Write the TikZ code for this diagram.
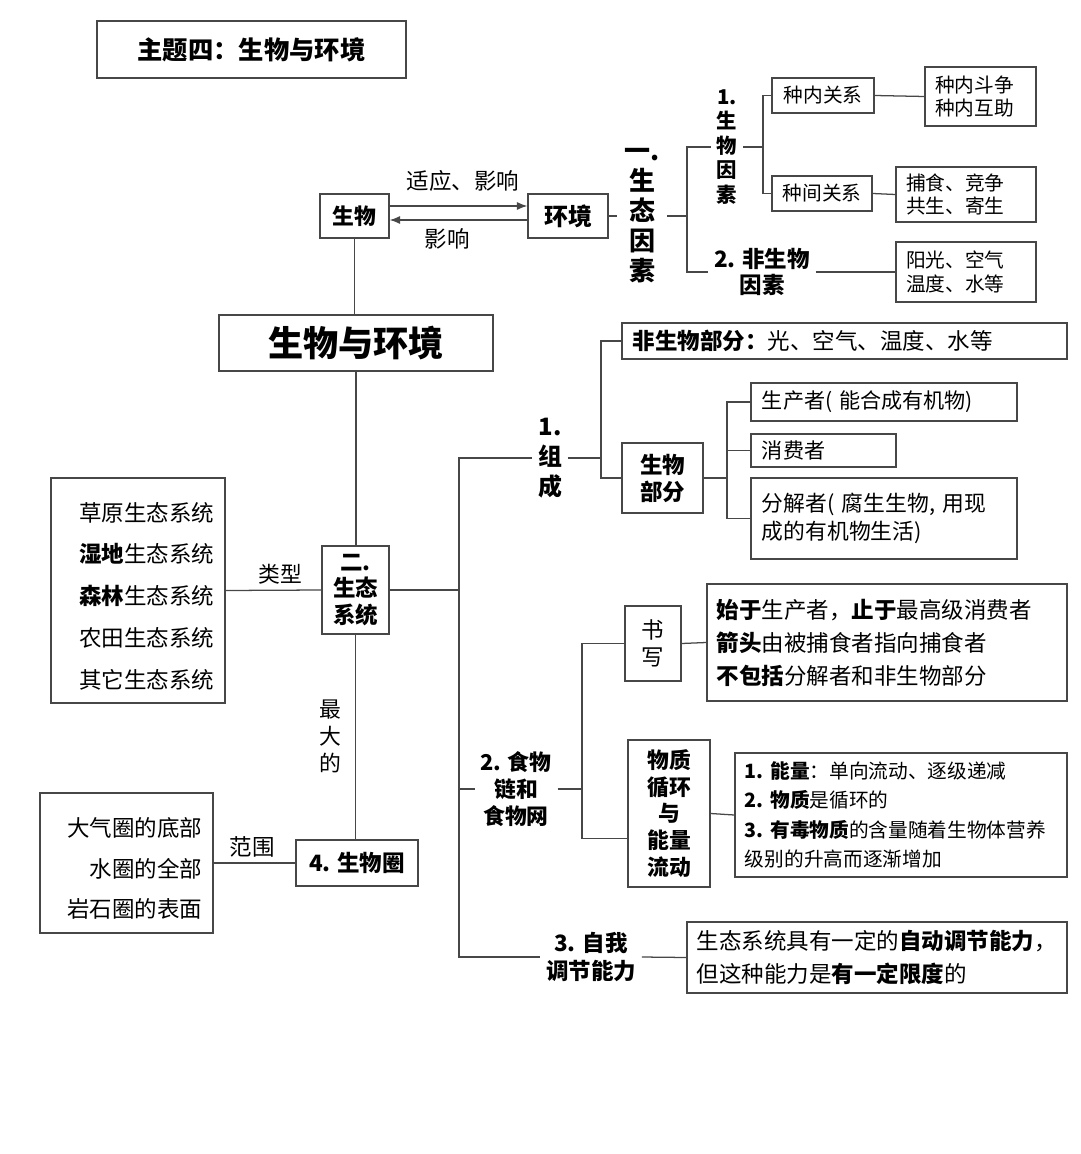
\documentclass[tikz,border=0pt]{standalone}
\usepackage{fontspec}
\setmainfont{Noto Sans CJK SC}
\usetikzlibrary{arrows.meta}
\newcommand{\fsz}[2]{\fontsize{#1}{#2}\selectfont}

\begin{document}
\begin{tikzpicture}[
    x=0.025cm, y=-0.025cm,
    box/.style={draw=black!72, line width=0.9pt, inner sep=0pt, align=center},
    lbox/.style={box, align=left},
    rbox/.style={box, align=right},
    word/.style={inner sep=4pt, align=center},
    link/.style={draw=black!72, line width=0.9pt},
    arr/.style={link, -{Latex[length=2.6mm,width=2mm]}}
]
\useasboundingbox (0,0) rectangle (1080,1154);
\node[box, minimum width=7.725cm, minimum height=1.425cm, font=\fsz{18}{22}\bfseries] (title) at (251.5,49.5) {主题四：生物与环境};

\node[box, minimum width=1.725cm, minimum height=1.1cm, font=\fsz{15.5}{19}\bfseries] (sw) at (354.5,216) {生物};
\node[box, minimum width=2cm, minimum height=1.1cm, font=\fsz{17}{20}\bfseries] (hj) at (568,216) {环境};
\node[word, font=\fsz{16}{19}] (adapt) at (463,181) {适应、影响};
\node[word, font=\fsz{16}{19}] (affect) at (447,239) {影响};
\draw[arr] ([yshift=0.25cm]sw.east) -- ([yshift=0.25cm]hj.west);
\draw[arr] ([yshift=-0.1cm]hj.west) -- ([yshift=-0.1cm]sw.east);

\node[word, inner xsep=0.18cm, font=\fsz{18.5}{21.3}\bfseries] (ecofac) at (642,216) {一.\\生\\态\\因\\素};
\node[word, font=\fsz{14.5}{17.4}\bfseries] (biofac) at (727,147) {1.\\生\\物\\因\\素};
\node[word, font=\fsz{16}{19}\bfseries] (abiofac) at (762,272) {2. 非生物\\因素};
\coordinate (b1) at (687,216);
\draw[link] (hj.east) -- (ecofac.west);
\draw[link] (ecofac.east) -- (b1) |- (biofac.west);
\draw[link] (b1) |- (abiofac.west);

\node[box, minimum width=2.55cm, minimum height=0.875cm, font=\fsz{14}{17}] (intra) at (823,95.5) {种内关系};
\node[lbox, minimum width=2.775cm, minimum height=1.475cm, text width=2.275cm, font=\fsz{14}{17}] (intra2) at (980.5,96.5) {种内斗争\\种内互助};
\node[box, minimum width=2.5cm, minimum height=0.875cm, font=\fsz{14}{17}] (inter) at (822,193.5) {种间关系};
\node[lbox, minimum width=3.5cm, minimum height=1.375cm, text width=3cm, font=\fsz{14}{17}] (inter2) at (966,194.5) {捕食、竞争\\共生、寄生};
\node[lbox, minimum width=3.5cm, minimum height=1.5cm, text width=3cm, font=\fsz{14}{17.5}] (abio2) at (966,272) {阳光、空气\\温度、水等};
\coordinate (b2) at (763,147);
\draw[link] (biofac.east) -- (b2);
\draw[link] (b2) |- (intra.west);
\draw[link] (b2) |- (inter.west);
\draw[link] (intra.east) -- (intra2.west);
\draw[link] (inter.east) -- (inter2.west);
\draw[link] (abiofac.east) -- (abio2.west);

\node[box, minimum width=6.85cm, minimum height=1.4cm, font=\fsz{25}{30}\bfseries] (main) at (356,343) {生物与环境};
\draw[link] (sw.south) -- (sw.south |- main.north);

\node[box, minimum width=1.675cm, minimum height=2.2cm, font=\fsz{16}{19}\bfseries] (eco) at (355.5,590) {二.\\生态\\系统};
\draw[link] (main.south) -- (main.south |- eco.north);

\node[rbox, minimum width=4.35cm, minimum height=5.625cm, text width=3.8cm, font=\fsz{16}{29.7}] (types) at (138,590.5) {\rule{0pt}{0.75cm}草原生态系统\\\textbf{湿地}生态系统\\\textbf{森林}生态系统\\农田生态系统\\其它生态系统};
\node[word, font=\fsz{15.5}{19}] (typelbl) at (280,574) {类型};
\draw[link] (types.east) -- (eco.west);

\node[word, font=\fsz{15.5}{19.2}] (maxlbl) at (330,736) {最\\大\\的};
\node[box, minimum width=3.05cm, minimum height=1.15cm, font=\fsz{16}{19}\bfseries] (bsph) at (357,863) {4. 生物圈};
\draw[link] (eco.south) -- (eco.south |- bsph.north);
\node[rbox, minimum width=4.325cm, minimum height=3.5cm, text width=3.775cm, font=\fsz{16}{29}] (range) at (126.5,863) {\rule{0pt}{0.75cm}大气圈的底部\\水圈的全部\\岩石圈的表面};
\node[word, font=\fsz{16}{19}] (rangelbl) at (252,847) {范围};
\draw[link] (range.east) -- (bsph.west);

\coordinate (t) at (459,590);
\node[word, font=\fsz{17}{21.3}\bfseries] (comp) at (550,458) {1.\\组\\成};
\node[word, font=\fsz{15.5}{19.2}\bfseries] (food) at (516,789) {2. 食物\\链和\\食物网};
\node[word, font=\fsz{16}{20}\bfseries] (selfreg) at (591,957) {3. 自我\\调节能力};
\draw[link] (eco.east) -- (t);
\draw[link] (t) |- (comp.west);
\draw[link] (t) |- (food.west);
\draw[link] (t) |- (selfreg.west);

\node[lbox, minimum width=11.125cm, minimum height=0.9cm, text width=10.575cm, font=\fsz{16}{19}] (abiopart) at (844.5,341) {\textbf{非生物部分：}光、空气、温度、水等};
\node[box, minimum width=2.025cm, minimum height=1.75cm, font=\fsz{16}{19.2}\bfseries] (biopart) at (662.5,478) {生物\\部分};
\coordinate (c1) at (601,458);
\draw[link] (comp.east) -- (c1);
\draw[link] (c1) |- (abiopart.west);
\draw[link] (c1) |- (biopart.west);

\node[lbox, minimum width=6.65cm, minimum height=0.95cm, text width=6.1cm, font=\fsz{15}{18}] (prod) at (884,402) {生产者(~能合成有机物)};
\node[lbox, minimum width=3.625cm, minimum height=0.825cm, text width=3.075cm, font=\fsz{15}{18}] (cons) at (823.5,450.5) {消费者};
\node[lbox, minimum width=6.65cm, minimum height=2.025cm, text width=6.1cm, font=\fsz{15.5}{20}] (decomp) at (884,518.5) {分解者(~腐生生物,~用现\\成的有机物生活)};
\coordinate (c2) at (727,478);
\draw[link] (biopart.east) -- (c2);
\draw[link] (c2) |- (prod.west);
\draw[link] (c2) |- (cons.west);
\draw[link] (c2) |- (decomp.west);

\node[box, minimum width=1.4cm, minimum height=1.875cm, font=\fsz{16}{19.2}] (write) at (653,643.5) {书\\写};
\node[lbox, minimum width=9cm, minimum height=2.925cm, text width=8.5cm, font=\fsz{16}{23.5}] (writenote) at (887,642.5) {\textbf{始于}生产者，\textbf{止于}最高级消费者\\\textbf{箭头}由被捕食者指向捕食者\\\textbf{不包括}分解者和非生物部分};
\node[box, minimum width=2.05cm, minimum height=3.675cm, font=\fsz{15.5}{18.9}\bfseries] (cycle) at (669,813.5) {物质\\循环\\与\\能量\\流动};
\node[lbox, minimum width=8.3cm, minimum height=3.1cm, text width=7.8cm, font=\fsz{14}{21}] (cyclenote) at (901,815) {\textbf{1.~能量}：单向流动、逐级递减\\\textbf{2.~物质}是循环的\\\textbf{3.~有毒物质}的含量随着生物体营养\\级别的升高而逐渐增加};
\coordinate (c3) at (582,789);
\draw[link] (food.east) -- (c3);
\draw[link] (c3) |- (write.west);
\draw[link] (c3) |- ([yshift=-0.625cm]cycle.west);
\draw[link] (write.east) -- (writenote.west);
\draw[link] (cycle.east) -- (cyclenote.west);

\node[lbox, minimum width=9.5cm, minimum height=1.775cm, text width=9cm, font=\fsz{16}{23.5}] (selfnote) at (877,957.5) {生态系统具有一定的\textbf{自动调节能力}，\\但这种能力是\textbf{有一定限度}的};
\draw[link] (selfreg.east) -- (selfnote.west);
\end{tikzpicture}
\end{document}
